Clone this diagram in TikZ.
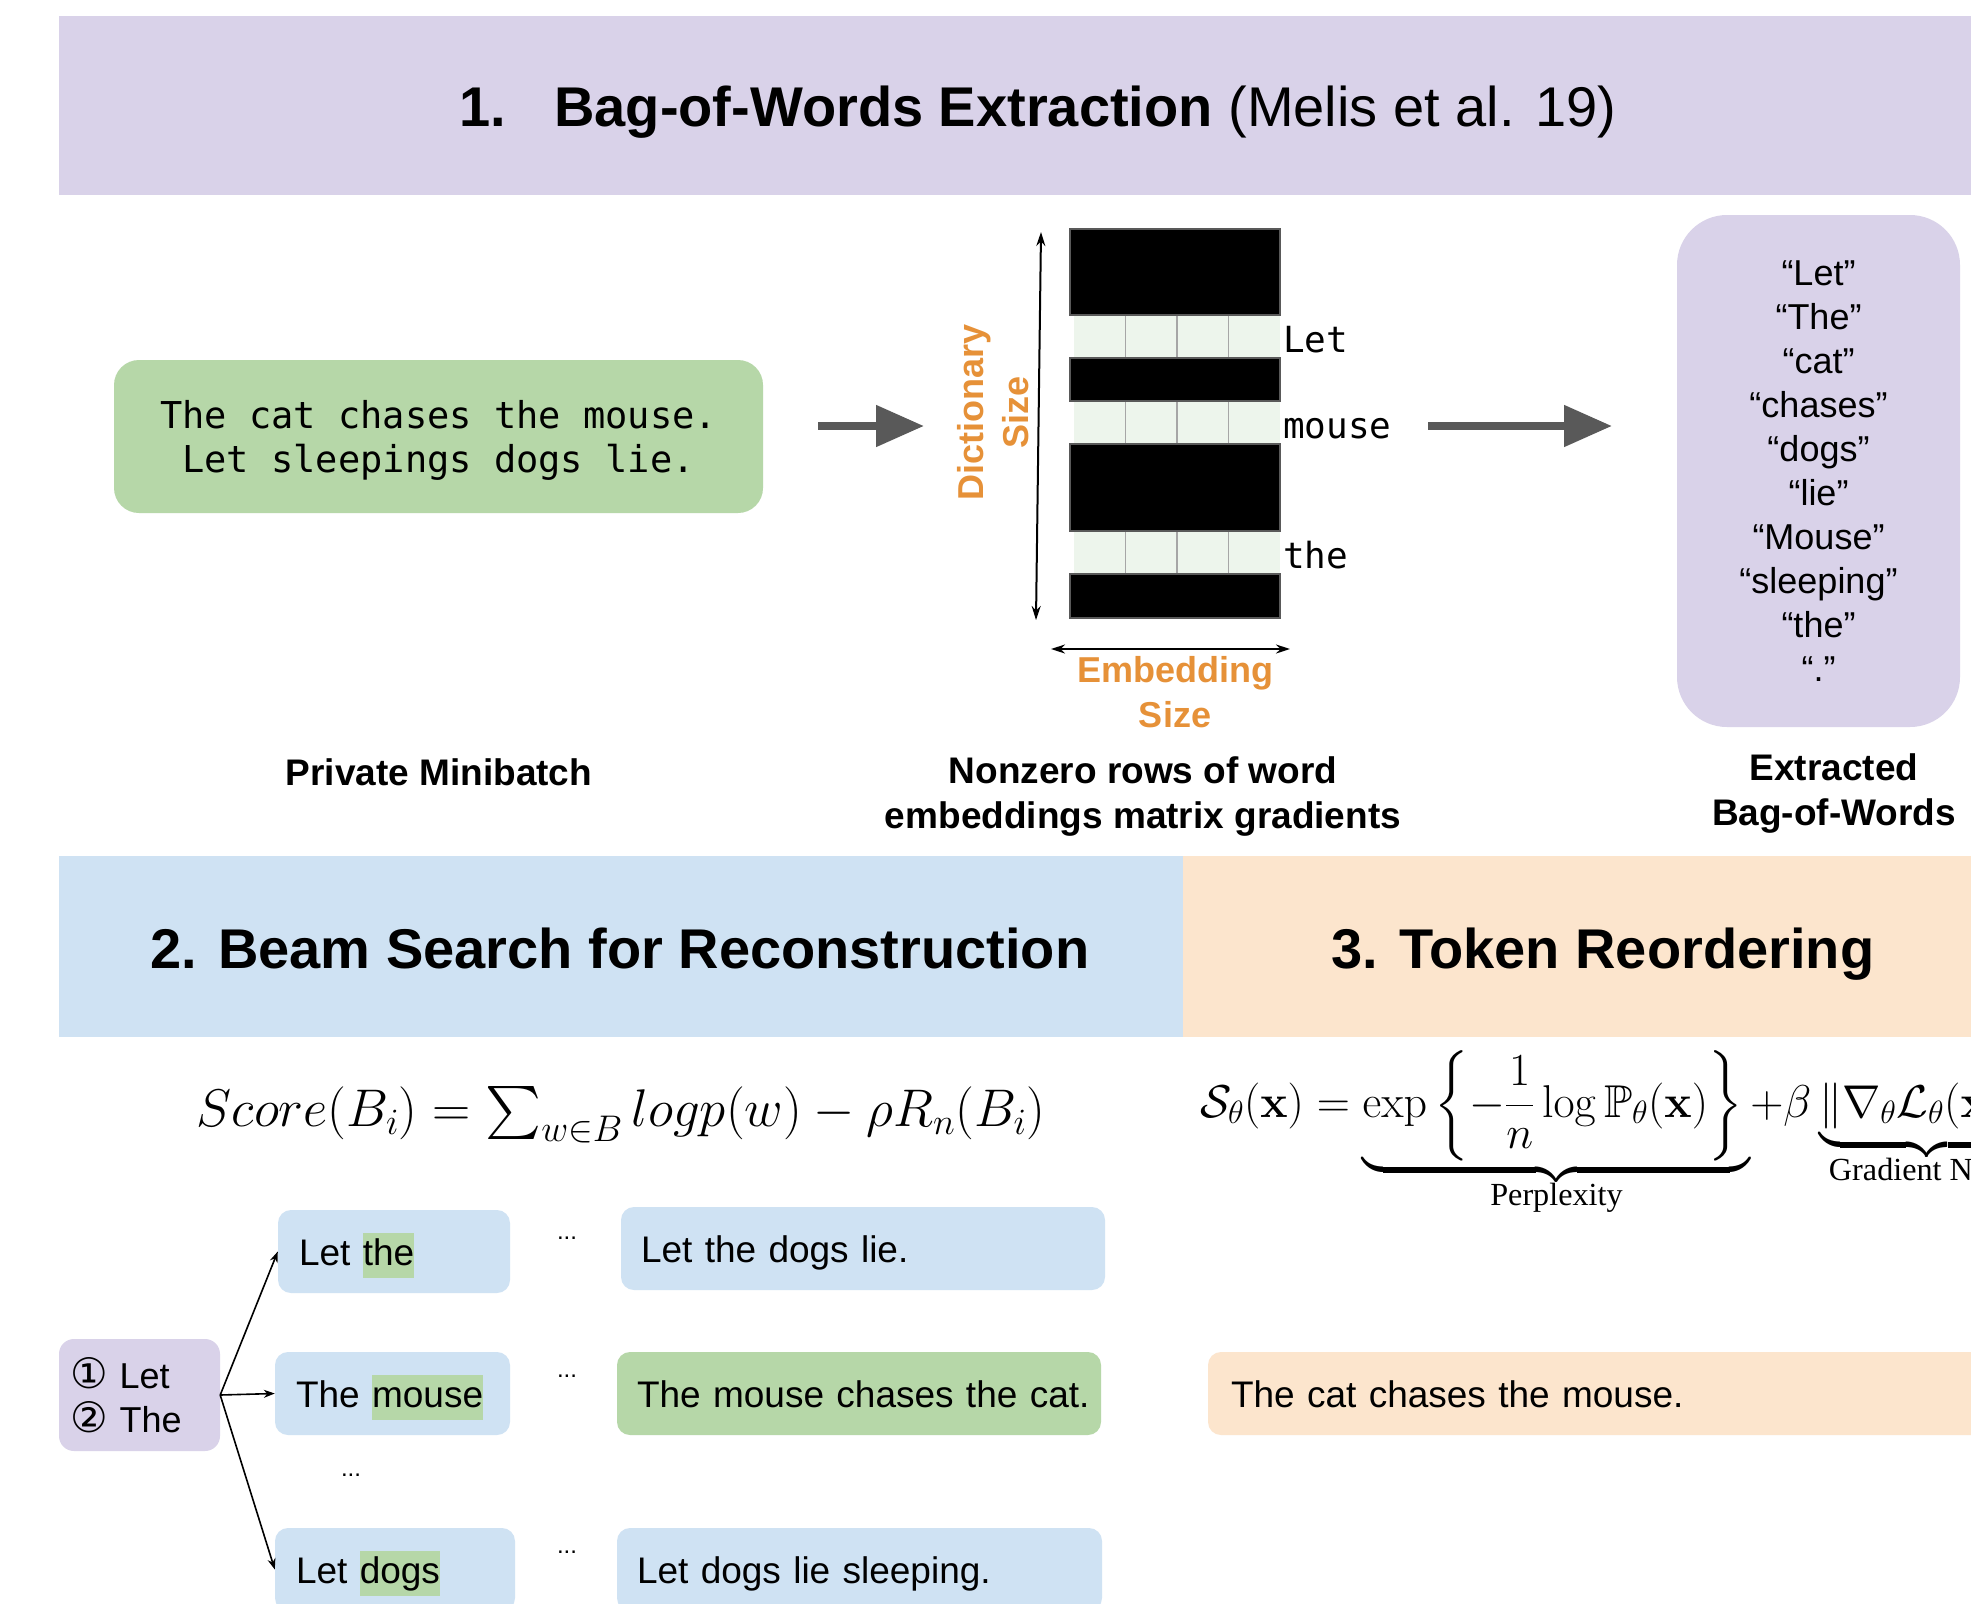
\RequirePackage{fix-cm}
\documentclass[tikz,border=0pt]{standalone}
\usepackage{amsmath,amssymb}
\usepackage[no-math]{fontspec}
\setmainfont{Liberation Sans}
\newfontfamily\codefont{DejaVu Sans Mono}
\newfontfamily\symfont{DejaVu Sans}
\newfontfamily\serifont{Liberation Serif}
\usetikzlibrary{arrows.meta}

\definecolor{bandpurple}{HTML}{D9D2E9}
\definecolor{bandblue}{HTML}{CFE2F3}
\definecolor{bandorange}{HTML}{FCE5CD}
\definecolor{boxgreen}{HTML}{B6D7A8}
\definecolor{axisorange}{HTML}{E69138}
\definecolor{arrowgray}{HTML}{595959}
\definecolor{rowlight}{HTML}{EDF5EC}
\definecolor{cellline}{HTML}{A6A6A6}

\newcommand{\setfs}[2]{\fontsize{#1}{#2}\selectfont}
% green marker behind a newly chosen token
\newcommand{\hlword}[1]{{\setlength{\fboxsep}{0pt}\colorbox{boxgreen}{\rule[-0.33em]{0pt}{1.2em}#1}}}
\newcommand{\circnum}[1]{{\symfont\setfs{42}{44}#1}}

\begin{document}
\begin{tikzpicture}[x=1pt,y=-1pt,
  sectitle/.style={font=\setfs{56}{66}\bfseries, inner sep=0pt, anchor=base},
  caption/.style={font=\setfs{37}{45}\bfseries, align=center, inner sep=0pt},
  axislabel/.style={font=\setfs{36}{45}\bfseries, text=axisorange, align=center, inner sep=0pt},
  codelabel/.style={font=\codefont\setfs{36}{44}, inner sep=0pt},
  sbox/.style={rounded corners=13pt, draw=none, inner xsep=21pt, inner ysep=0pt,
               font=\setfs{37}{44}, align=left, minimum height=83pt,
               text height=36pt, text depth=8pt},
  dots/.style={font=\setfs{24}{24}, inner sep=0pt},
  blockarrow/.style={draw=arrowgray, line width=8pt, -{Triangle[length=48pt,width=40pt]}, arrowgray},
  dimarrow/.style={line width=2pt, {Stealth[length=14pt,width=9pt]}-{Stealth[length=14pt,width=9pt]}},
  beam/.style={line width=1.6pt, -{Stealth[length=11pt,width=8pt]}},
]
\useasboundingbox (0,0) rectangle (1971,1604);
\clip (0,0) rectangle (1971,1604);
\fill[white] (0,0) rectangle (1971,1604);

% ---------- section bands ----------
\fill[bandpurple] (59,16) rectangle (1971,195);
\fill[bandblue] (59,856) rectangle (1183,1037);
\fill[bandorange] (1183,856) rectangle (1971,1037);

\node[sectitle] (t1) at (1038,126) {1.\hspace*{48pt}Bag-of-Words Extraction \mdseries(Melis et al. 19)};
\node[sectitle] (t2) at (620,968) {2. Beam Search for Reconstruction};
\node[sectitle] (t3) at (1603,968) {3. Token Reordering};

% ---------- 1. bag-of-words extraction ----------
\node[fill=boxgreen, rounded corners=25pt, minimum width=649pt, minimum height=153pt] (batch) at (438.5,436.5) {};
\node[align=center, inner sep=0pt, font=\codefont\setfs{37}{44}] (batchtext) at (438.5,440.5)
      {The cat chases the mouse.\\Let sleepings dogs lie.};

\coordinate (a1s) at (818,426);
\coordinate (a1e) at (924,426);
\draw[blockarrow] (a1s) -- (a1e);

% gradient matrix: nonzero rows in light green, zero rows in black
\foreach \ya/\yb in {315/358, 401/444, 531/574} {
  \fill[rowlight] (1074,\ya) rectangle (1280,\yb);
  \foreach \k in {1,2,3}
    \draw[cellline, line width=1.3pt] ({1074+\k*51.5},\ya) -- ({1074+\k*51.5},\yb);
}
\foreach \ya/\yb in {229/315, 358/401, 444/531, 574/618}
  \filldraw[fill=black, draw=black!65, line width=1.5pt] (1070,\ya) rectangle (1280,\yb);

\node[codelabel, anchor=base west] (wLet) at (1283,352) {Let};
\node[codelabel, anchor=base west] (wMouse) at (1283,438) {mouse};
\node[codelabel, anchor=base west] (wThe) at (1283,568) {the};

\coordinate (dtop) at (1041,232);
\coordinate (dbot) at (1036,620);
\draw[dimarrow] (dtop) -- (dbot);
\node[axislabel, rotate=90] (dictsize) at (993,412) {Dictionary\\Size};

\coordinate (eleft) at (1051,649);
\coordinate (eright) at (1290,649);
\draw[dimarrow] (eleft) -- (eright);
\node[axislabel] (embsize) at (1175,692) {Embedding\\Size};

\coordinate (a2s) at (1428,426);
\coordinate (a2e) at (1612,426);
\draw[blockarrow] (a2s) -- (a2e);

\node[fill=bandpurple, rounded corners=50pt, minimum width=283pt, minimum height=512pt,
      align=center, font=\setfs{36}{44}] (bag) at (1818.5,471)
      {“Let”\\“The”\\“cat”\\“chases”\\“dogs”\\“lie”\\“Mouse”\\“sleeping”\\“the”\\“.”};

\node[caption] (capBatch) at (439,772) {Private Minibatch};
\node[caption] (capGrad) at (1143,797) {Nonzero rows of word\\embeddings matrix gradients};
\node[caption] (capBag) at (1834,794) {Extracted\\Bag-of-Words};

% ---------- 2. beam search ----------
\node[inner sep=0pt, font=\setfs{53}{60}] (score) at (621,1115)
  {$Score(B_i) = \sum_{w\in B} logp(w) - \rho R_n(B_i)$};

\node[fill=bandpurple, rounded corners=15pt, minimum width=161pt, minimum height=112pt,
      inner xsep=11pt, text width=139pt, align=left, font=\setfs{36}{44}] (start) at (139.5,1395)
      {\circnum{①} Let\\\circnum{②} The};

\node[sbox, fill=bandblue, text width=190pt] (b1) at (394,1251.5) {Let \hlword{the}};
\node[sbox, fill=bandblue, text width=193pt] (b2) at (392.5,1393.5) {The \hlword{mouse}};
\node[sbox, fill=bandblue, text width=198pt] (b3) at (395,1569.5) {Let \hlword{dogs}};

\draw[beam] (start.east) -- (b1.west);
\draw[beam] (start.east) -- (b2.west);
\draw[beam] (start.east) -- (b3.west);

\node[dots] (d1) at (567,1238) {...};
\node[dots] (d2) at (567,1376) {...};
\node[dots] (d3) at (567,1552) {...};
\node[dots] (d4) at (351,1475) {...};

\node[sbox, fill=bandblue, inner xsep=20pt, text width=444pt] (r1) at (863,1248.5) {\mbox{Let the dogs lie.}};
\node[sbox, fill=boxgreen, inner xsep=20pt, text width=444pt] (r2) at (859,1393.5) {\mbox{The mouse chases the cat.}};
\node[sbox, fill=bandblue, inner xsep=20pt, text width=445pt] (r3) at (859.5,1569.5) {\mbox{Let dogs lie sleeping.}};

% ---------- 3. token reordering ----------
\node[inner sep=0pt, anchor=base west, font=\setfs{46}{54}] (reorder) at (1200,1117)
  {$\displaystyle \mathcal{S}_\theta(\mathbf{x}) =
   \underbrace{\exp\left\{-\frac{1}{n}\log\mathbb{P}_\theta(\mathbf{x})\right\}\rule[-47pt]{0pt}{0pt}}_{\text{\serifont Perplexity}}
   \!+ \beta\underbrace{\left\|\nabla_\theta\mathcal{L}_\theta(\mathbf{x})\right\|\rule[-22pt]{0pt}{0pt}}_{\text{\serifont Gradient Norm}}$};

\node[sbox, fill=bandorange, inner xsep=23pt, text width=746pt] (o1) at (1604,1393.5)
  {The cat chases the mouse.};
\end{tikzpicture}
\end{document}
